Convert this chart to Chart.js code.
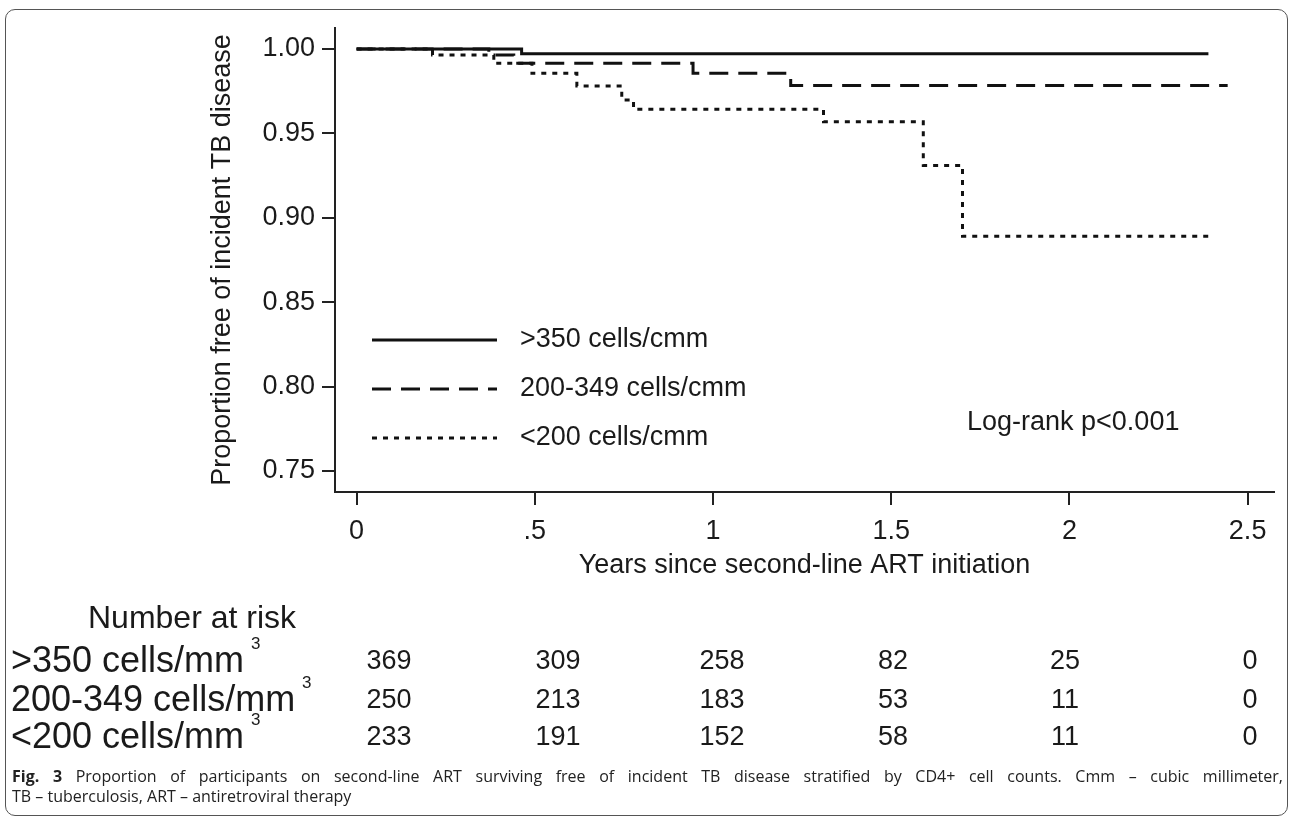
<!DOCTYPE html>
<html>
<head>
<meta charset="utf-8">
<script src="https://cdn.jsdelivr.net/npm/chart.js@4.4.1/dist/chart.umd.min.js"></script>
<style>
  html, body { margin: 0; padding: 0; background: #fff; }
  #wrap { position: relative; width: 1295px; height: 818px; overflow: hidden; }
  #frame { position: absolute; left: 5px; top: 9px; width: 1283px; height: 807px; border: 1.5px solid #555; border-radius: 10px; box-sizing: border-box; }
  #chart { position: absolute; left: 0; top: 0; }
  #caption { position: absolute; left: 12px; top: 766px; width: 1271px; font-family: 'Open Sans', sans-serif; font-size: 16px; line-height: 20px; color: #222; }
  #caption .l1 { text-align: justify; text-align-last: justify; }
</style>
</head>
<body>
<div id="wrap">
  <div id="frame"></div>
  <canvas id="chart" width="1295" height="818"></canvas>
  <div id="caption">
    <div class="l1"><b>Fig. 3</b> Proportion of participants on second-line ART surviving free of incident TB disease stratified by CD4+ cell counts. Cmm – cubic millimeter,</div>
    <div>TB – tuberculosis, ART – antiretroviral therapy</div>
  </div>
</div>
<script>
// Kaplan-Meier steps (time in years, proportion free of TB)
const groups = ['>350 cells/cmm', '200-349 cells/cmm', '<200 cells/cmm'];
const timeHigh = [0, 0.463, 2.39];
const survHigh = [1.0, 0.9972, 0.9972];
const timeMid = [0, 0.371, 0.441, 0.944, 1.218, 2.444];
const survMid = [1.0, 0.9964, 0.9915, 0.9856, 0.9784, 0.9784];
const timeLow = [0, 0.213, 0.385, 0.492, 0.618, 0.744, 0.777, 1.31, 1.59, 1.70, 2.39];
const survLow = [1.0, 0.9964, 0.9915, 0.9856, 0.9781, 0.9698, 0.9643, 0.9569, 0.931, 0.889, 0.889];

const xTicks = [0, 0.5, 1, 1.5, 2, 2.5];
const xTickLabels = ['0', '.5', '1', '1.5', '2', '2.5'];
const yTicks = [0.75, 0.80, 0.85, 0.90, 0.95, 1.00];
const yTickLabels = ['0.75', '0.80', '0.85', '0.90', '0.95', '1.00'];

// Number at risk table
const riskGroups = ['>350 cells/mm', '200-349 cells/mm', '<200 cells/mm'];
const riskHigh = [369, 309, 258, 82, 25, 0];
const riskMid = [250, 213, 183, 53, 11, 0];
const riskLow = [233, 191, 152, 58, 11, 0];

const pValueText = 'Log-rank p<0.001';

const FONT = 'Liberation Sans, Arial, sans-serif';
const INK = '#1a1a1a';

function steps(t, s) {
    return t.map((v, i) => ({ x: v, y: s[i] }));
}

// Legend drawn inside the plot area, Stata style
const kmLegend = {
    id: 'kmLegend',
    afterDatasetsDraw(chart) {
        const ctx = chart.ctx;
        const rows = [340, 389, 438];
        ctx.save();
        chart.data.datasets.forEach((ds, i) => {
            ctx.beginPath();
            ctx.lineWidth = ds.borderWidth;
            ctx.strokeStyle = ds.borderColor;
            ctx.setLineDash(ds.borderDash || []);
            ctx.moveTo(372, rows[i]);
            ctx.lineTo(497, rows[i]);
            ctx.stroke();
            ctx.setLineDash([]);
            ctx.fillStyle = INK;
            ctx.font = '27px ' + FONT;
            ctx.textBaseline = 'middle';
            ctx.textAlign = 'left';
            ctx.fillText(ds.label, 520, rows[i]);
        });
        ctx.fillText(pValueText, 967, 423);
        ctx.restore();
    }
};

// Number at risk table under the axis
const riskTable = {
    id: 'riskTable',
    afterDraw(chart) {
        const ctx = chart.ctx;
        const cols = [389, 558, 722, 893, 1065, 1250];
        const rows = [662, 701, 738];
        const counts = [riskHigh, riskMid, riskLow];
        ctx.save();
        ctx.fillStyle = INK;
        ctx.textBaseline = 'middle';
        ctx.font = '32px ' + FONT;
        ctx.textAlign = 'left';
        ctx.fillText('Number at risk', 88, 619);
        riskGroups.forEach((g, i) => {
            ctx.font = '36px ' + FONT;
            ctx.textAlign = 'left';
            ctx.fillText(g, 11, rows[i]);
            const w = ctx.measureText(g).width;
            ctx.font = '17px ' + FONT;
            ctx.fillText('3', 11 + w + 7, rows[i] - 18);
            ctx.font = '27px ' + FONT;
            ctx.textAlign = 'center';
            counts[i].forEach((n, j) => ctx.fillText(String(n), cols[j], rows[i]));
        });
        ctx.restore();
    }
};

const lineBase = { borderColor: '#111', borderWidth: 3, stepped: 'before', pointRadius: 0, fill: false, borderCapStyle: 'butt' };

new Chart(document.getElementById('chart'), {
    type: 'line',
    data: {
        datasets: [
            Object.assign({ label: groups[0], data: steps(timeHigh, survHigh) }, lineBase),
            Object.assign({ label: groups[1], data: steps(timeMid, survMid), borderDash: [19, 10] }, lineBase),
            Object.assign({ label: groups[2], data: steps(timeLow, survLow), borderDash: [5, 6] }, lineBase)
        ]
    },
    options: {
        responsive: false,
        animation: false,
        layout: { padding: { left: 0, top: 28, right: 21, bottom: 0 } },
        plugins: { legend: { display: false }, tooltip: { enabled: false } },
        scales: {
            x: {
                type: 'linear',
                min: -0.0606,
                max: 2.574,
                afterBuildTicks: (s) => { s.ticks = xTicks.map(v => ({ value: v })); },
                afterFit: (s) => { s.height = 326; },
                ticks: {
                    autoSkip: false, maxRotation: 0, padding: 10, color: INK,
                    font: { family: FONT, size: 27 },
                    callback: (v) => xTickLabels[xTicks.indexOf(v)]
                },
                grid: { drawOnChartArea: false, drawTicks: true, tickLength: 13, color: '#222', lineWidth: 2 },
                border: { display: true, color: '#222', width: 2 },
                title: {
                    display: true, text: 'Years since second-line ART initiation', color: INK,
                    font: { family: FONT, size: 27 }, padding: { top: 0, bottom: 236 }
                }
            },
            y: {
                type: 'linear',
                min: 0.73756,
                max: 1.01244,
                afterBuildTicks: (s) => { s.ticks = yTicks.map(v => ({ value: v })); },
                afterFit: (s) => { s.width = 335; },
                ticks: {
                    autoSkip: false, padding: 7, color: INK,
                    font: { family: FONT, size: 27 },
                    callback: (v) => yTickLabels[yTicks.indexOf(v)]
                },
                grid: { drawOnChartArea: false, drawTicks: true, tickLength: 13, color: '#222', lineWidth: 2 },
                border: { display: true, color: '#222', width: 2 },
                title: {
                    display: true, text: 'Proportion free of incident TB disease', color: INK,
                    font: { family: FONT, size: 27 }, padding: { top: 206, bottom: 0 }
                }
            }
        }
    },
    plugins: [kmLegend, riskTable]
});
</script>
</body>
</html>
